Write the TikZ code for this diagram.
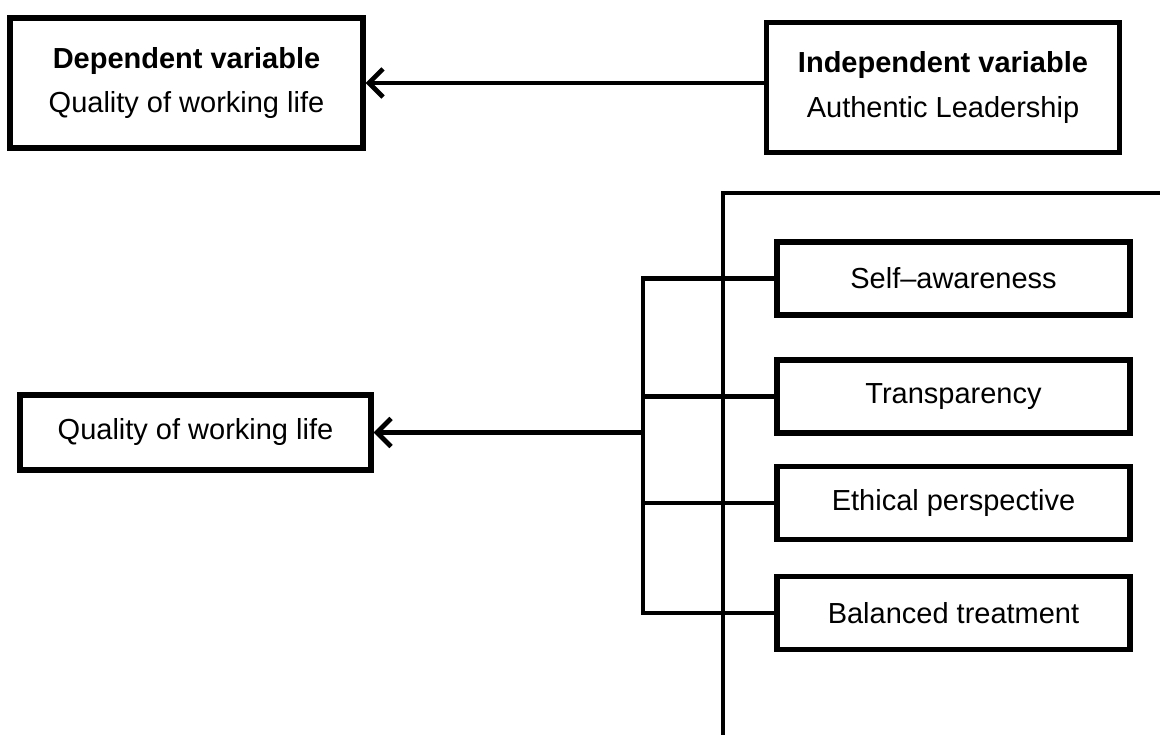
\documentclass[tikz,border=0pt]{standalone}
\usepackage{fontspec}
\setmainfont{Liberation Sans}
\usepackage{tikz}
\usetikzlibrary{arrows.meta}
\pgfdeclarelayer{bg}
\pgfsetlayers{bg,main}

\begin{document}
\begin{tikzpicture}[
        varbox/.style={draw, line width=2.9pt, fill=white, minimum width=7.06cm, minimum height=2.6cm, align=center, font=\fontsize{16.5}{25.5}\selectfont},
        dimbox/.style={draw, line width=2.9pt, fill=white, minimum width=7.06cm, minimum height=1.46cm, font=\fontsize{16.5}{20}\selectfont},
        link/.style={line width=2.7pt},
        arr/.style={line width=2.7pt, -{Straight Barb[length=8pt, width=16pt, line width=2.7pt]}}
]
        \useasboundingbox (0cm, 0cm) rectangle (23.200000cm, 14.700000cm);
        \node (dep) [varbox] at (3.730000cm, 13.040000cm) {\textbf{Dependent variable}\\Quality of working life};
        \node (indep) [varbox] at (18.860000cm, 12.950000cm) {\textbf{Independent variable}\\Authentic Leadership};
        \node (qwl) [dimbox, minimum width=7.02cm, minimum height=1.5cm] at (3.910000cm, 6.050000cm) {Quality of working life};
        \node (sa) [dimbox] at (19.070000cm, 9.130000cm) {Self–awareness};
        \node (tr) [dimbox] at (19.070000cm, 6.770000cm) {Transparency};
        \node (ep) [dimbox] at (19.070000cm, 4.640000cm) {Ethical perspective};
        \node (bt) [dimbox] at (19.070000cm, 2.440000cm) {Balanced treatment};
        \coordinate (top) at (14.460000cm, 10.840000cm);
        \coordinate (corner) at (23.200000cm, 10.840000cm);
        \coordinate (foot) at (14.460000cm, 0cm);
        \coordinate (fork) at (12.860000cm, 6.050000cm);
        \begin{pgfonlayer}{bg}
                \draw [arr] (dep.east -| indep.west) -- (dep.east);
                \draw [link] (corner) -- (top) -- (foot);
                \draw [link] (sa.west) -- (sa.west -| fork) -- (bt.west -| fork) -- (bt.west);
                \draw [link] (tr.west) -- (tr.west -| fork);
                \draw [link] (ep.west) -- (ep.west -| fork);
                \draw [arr] (fork) -- (qwl.east);
        \end{pgfonlayer}
\end{tikzpicture}
\end{document}
